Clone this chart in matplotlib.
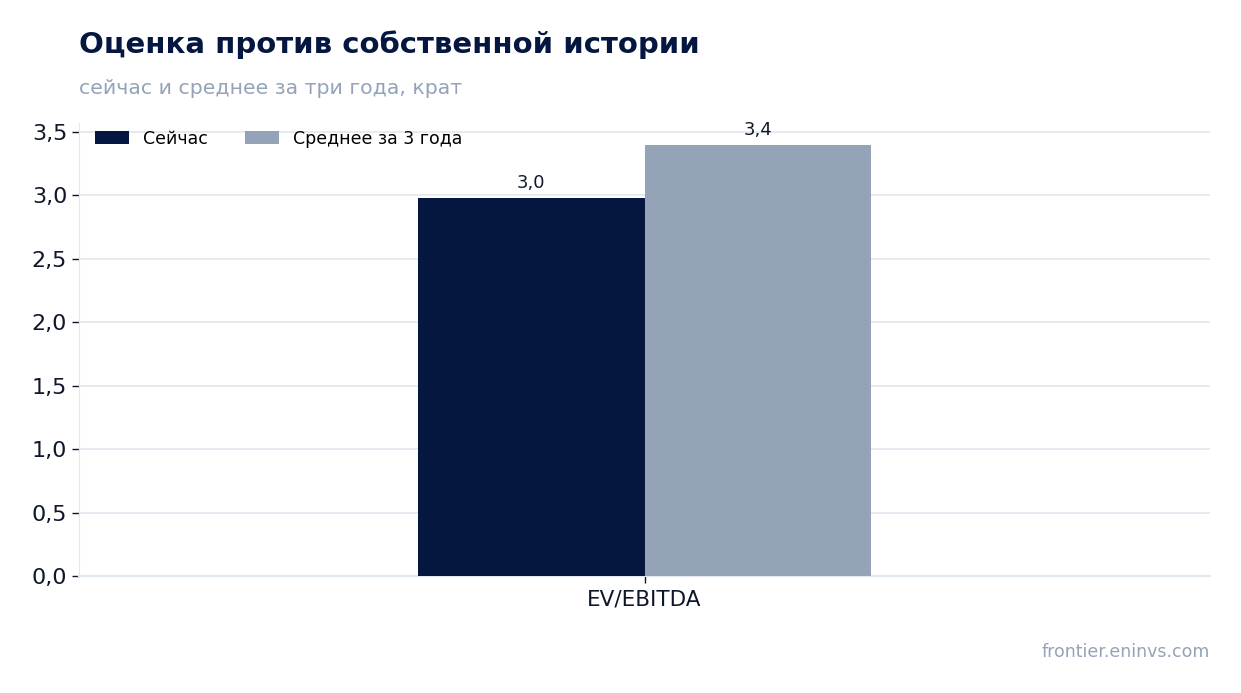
import matplotlib.pyplot as plt
import numpy as np
from matplotlib.ticker import FuncFormatter

categories = ['EV/EBITDA']
now_values = [2.98]
avg_values = [3.40]
series_names = ['Сейчас', 'Среднее за 3 года']

navy = '#051640'
slate = '#94a3b8'
grid_c = '#e2e8f0'
text_c = '#0f172a'

fig = plt.figure(figsize=(12.41, 6.93), dpi=100)
ax = fig.add_axes([79/1241, 1 - 576/693, (1210-79)/1241, (576-123)/693])

x = np.arange(len(categories))
w = 0.2
b1 = ax.bar(x - w/2, now_values, w, color=navy, label=series_names[0], zorder=3)
b2 = ax.bar(x + w/2, avg_values, w, color=slate, label=series_names[1], zorder=3)

fmt = lambda v: f'{v:.1f}'.replace('.', ',')
for bars in (b1, b2):
    for r in bars:
        ax.annotate(fmt(r.get_height()), (r.get_x() + r.get_width()/2, r.get_height()),
                    xytext=(0, 4), textcoords='offset points', ha='center', va='bottom',
                    fontsize=13, color=text_c)

ax.set_xlim(-0.5, 0.5)
ax.set_ylim(0, max(avg_values) * 1.05)
ax.set_yticks(np.arange(0, 3.6, 0.5))
ax.yaxis.set_major_formatter(FuncFormatter(lambda v, p: fmt(v)))
ax.set_xticks(x)
ax.set_xticklabels(categories)
ax.tick_params(axis='y', labelsize=16, colors=text_c, length=5, width=1)
ax.tick_params(axis='x', labelsize=15.5, colors=text_c, length=5, width=1, pad=5)
ax.grid(axis='y', color=grid_c, linewidth=1.2, zorder=0)
for s in ('top', 'right'):
    ax.spines[s].set_visible(False)
ax.spines['left'].set_color(grid_c)
ax.spines['bottom'].set_color(grid_c)
ax.spines['bottom'].set_linewidth(1.5)

ax.legend(loc='upper left', ncol=2, frameon=False, fontsize=12.5,
          handlelength=2.0, handleheight=0.7, bbox_to_anchor=(0.0, 1.02),
          columnspacing=2.1)

fig.text(79/1241, 1 - 45/693, 'Оценка против собственной истории', fontsize=21,
         fontweight='bold', color=navy, va='center', ha='left')
fig.text(79/1241, 1 - 88/693, 'сейчас и среднее за три года, крат', fontsize=14.7,
         color=slate, va='center', ha='left')
fig.text(1210/1241, 1 - 652/693, 'frontier.eninvs.com', fontsize=12.5,
         color=slate, va='center', ha='right')

fig.savefig('out.png', dpi=100)
